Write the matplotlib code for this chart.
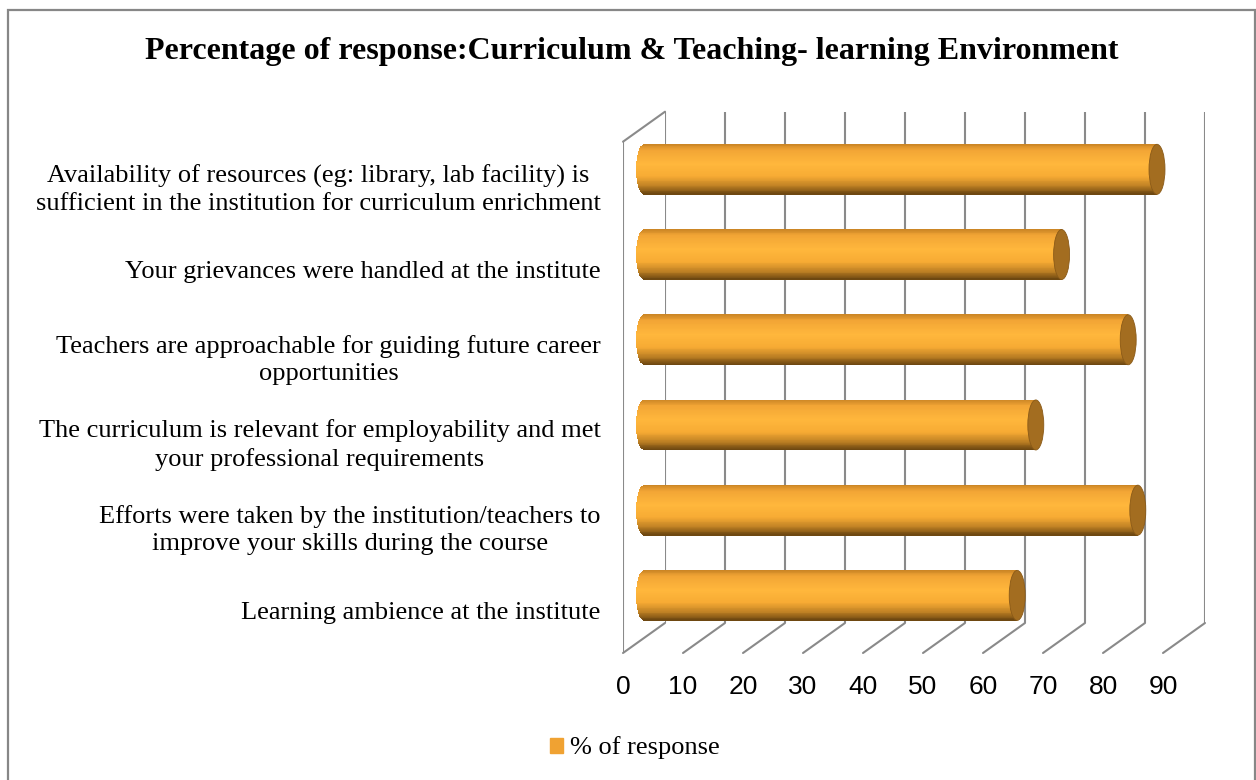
import numpy as np
import matplotlib
matplotlib.use("Agg")
import matplotlib.pyplot as plt
from matplotlib.patches import Ellipse, Rectangle, Patch, ConnectionPatch
from matplotlib.colors import LinearSegmentedColormap

# data, top to bottom as in the chart
categories = [
    "Availability of resources (eg: library, lab facility) is\nsufficient in the institution for curriculum enrichment",
    "Your grievances were handled at the institute",
    "Teachers are approachable for guiding future career\nopportunities",
    "The curriculum is relevant for employability and met\nyour professional requirements",
    "Efforts were taken by the institution/teachers to\nimprove your skills during the course",
    "Learning ambience at the institute",
]
values = [85.5, 69.6, 80.7, 65.3, 82.3, 62.2]
xticks = [0, 10, 20, 30, 40, 50, 60, 70, 80, 90]
series_name = "% of response"

W, H = 1256, 780
fig = plt.figure(figsize=(W / 100, H / 100), dpi=100)

serif = "Liberation Serif"
grid_c = "#8a8a8a"

# back wall box (pixels), depth offset (pixels)
bx0, bx1, by_top, by_bot = 665, 1205, 111.7, 623
ddx, ddy = 42, 30

def axes_at(dx, dy):
    return fig.add_axes([(bx0 - dx) / W, (H - by_bot - dy) / H,
                         (bx1 - bx0) / W, (by_bot - by_top) / H])

ax_back = axes_at(0, 0)
ax_mid = axes_at(ddx / 2, ddy / 2)
ax_front = axes_at(ddx, ddy)

n = len(categories)
ypos = np.arange(n)[::-1]
for a in (ax_back, ax_mid, ax_front):
    a.set_xlim(0, 90)
    a.set_ylim(-0.5, n - 0.5)
    a.patch.set_alpha(0)
    for s in a.spines.values():
        s.set_visible(False)
ax_back.axis("off")
ax_mid.axis("off")

# back wall gridlines
ax_back.vlines(xticks, -0.5, n - 0.5, color=grid_c, lw=1.5)

# floor diagonals and left wall
for v in xticks:
    fig.add_artist(ConnectionPatch((v, -0.5), (v, -0.5), "data", "data",
                                   axesA=ax_back, axesB=ax_front,
                                   color=grid_c, lw=1.5, shrinkA=0, shrinkB=0))
fig.add_artist(ConnectionPatch((0, n - 0.5), (0, n - 0.5), "data", "data",
                               axesA=ax_back, axesB=ax_front,
                               color=grid_c, lw=1.5, shrinkA=0, shrinkB=0))
ax_front.vlines(0, -0.5, n - 0.5, color=grid_c, lw=1.5)

# cylinder bars
cmap = LinearSegmentedColormap.from_list("cyl", [
    (0.0, "#c98424"), (0.12, "#f2a535"), (0.4, "#ffb73c"),
    (0.65, "#f7ab34"), (0.85, "#bb7e23"), (1.0, "#6a4510")])
bh = 0.587
cap_a = 1.33
N = 60
vals = np.array(values)
for k in range(N):
    f = (k + 0.5) / N
    t = 1 - 2 * f
    lefts = -cap_a * np.sqrt(max(1 - t * t, 0))
    ax_mid.barh(ypos + bh / 2 - f * bh, vals - lefts, left=lefts,
                height=bh / N * 1.8, color=cmap(f), lw=0, clip_on=False)
for y, v in zip(ypos, values):
    ax_mid.add_patch(Ellipse((v, y), 2 * cap_a, bh, facecolor="#a36d20",
                             edgecolor="#8a5a18", lw=0.6, clip_on=False))

# tick labels on the front plane
ax_front.set_xticks(xticks)
ax_front.set_xticklabels([str(v) for v in xticks], fontsize=19,
                         family="Liberation Sans")
ax_front.set_yticks(ypos)
ax_front.set_yticklabels(categories, fontsize=19, family=serif)
for lab in ax_front.get_yticklabels():
    lab.set_multialignment("center")
    lab.set_linespacing(1.3)
ax_front.tick_params(axis="x", length=0, pad=16)
ax_front.tick_params(axis="y", length=0, pad=16)

fig.text(632 / W, 1 - 51 / H,
         "Percentage of response:Curriculum & Teaching- learning Environment",
         ha="center", va="center", fontsize=23, fontweight="bold", family=serif)

fig.legend(handles=[Patch(color="#f0a232")], labels=[series_name],
           loc="center", bbox_to_anchor=(635 / W, 1 - 748 / H), frameon=False,
           handlelength=0.5, handleheight=0.5, handletextpad=0.25,
           prop={"family": serif, "size": 19})

fig.add_artist(Rectangle((8 / W, -0.05), (1255 - 8) / W, 1.05 - 9.7 / H,
                         transform=fig.transFigure, fill=False,
                         edgecolor="#878787", lw=1.6))

fig.savefig("out.png", dpi=100)
